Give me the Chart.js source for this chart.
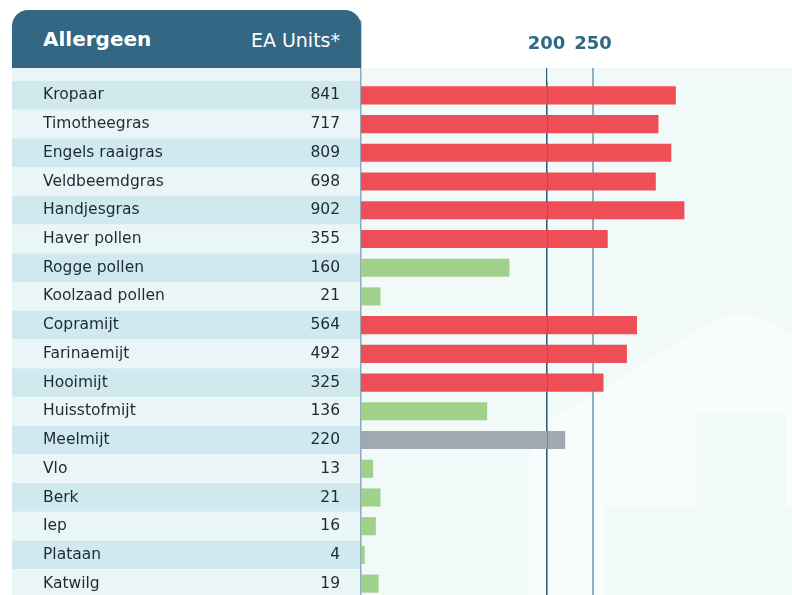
<!DOCTYPE html>
<html>
<head>
<meta charset="utf-8">
<script src="https://cdn.jsdelivr.net/npm/chart.js@4"></script>
<style>
  html, body { margin: 0; padding: 0; overflow: hidden; background: #fff; }
  #wrap { position: relative; width: 792px; height: 595px; overflow: hidden; }
  #chartCanvas { position: absolute; left: 0; top: 0; }
  .head {
    position: absolute; left: 12px; top: 10px; width: 349px; height: 58px;
    background: #336783; border-radius: 16px 16px 0 0; color: #fff;
    font-family: "DejaVu Sans", sans-serif;
  }
  .head span { position: absolute; line-height: normal; white-space: nowrap; }
  .head .t1 { left: 31px; top: 17px; font-size: 20px; font-weight: 700; }
  .head .t2 { right: 21px; top: 19px; font-size: 19px; }
</style>
</head>
<body>
<div id="wrap">
  <canvas id="chartCanvas" width="792" height="598"></canvas>
  <div class="head"><span class="t1">Allergeen</span><span class="t2">EA Units*</span></div>
</div>
<script>
const allergens = ["Kropaar", "Timotheegras", "Engels raaigras", "Veldbeemdgras", "Handjesgras",
  "Haver pollen", "Rogge pollen", "Koolzaad pollen", "Copramijt", "Farinaemijt", "Hooimijt",
  "Huisstofmijt", "Meelmijt", "Vlo", "Berk", "Iep", "Plataan", "Katwilg"];
const eaUnits = [841, 717, 809, 698, 902, 355, 160, 21, 564, 492, 325, 136, 220, 13, 21, 16, 4, 19];
const tickValues = [200, 250];

// above 250 the axis is squeezed
const BREAK = 250, SQUEEZE = 0.151;

const barColor = v => v > 250 ? "#f04e56" : (v >= 200 ? "#a1a9b0" : "#9fd18b");

class SplitScale extends Chart.LinearScale {
  static id = "split";
  static defaults = Chart.LinearScale.defaults;
  _t(v) { return v <= BREAK ? v : BREAK + (v - BREAK) * SQUEEZE; }
  _inv(t) { return t <= BREAK ? t : BREAK + (t - BREAK) / SQUEEZE; }
  getPixelForValue(value) {
    const a = this._t(this.min), b = this._t(this.max);
    return this.getPixelForDecimal((this._t(value) - a) / (b - a));
  }
  getValueForPixel(pixel) {
    const a = this._t(this.min), b = this._t(this.max);
    return this._inv(a + this.getDecimalForPixel(pixel) * (b - a));
  }
}
Chart.register(SplitScale);

const backdrop = {
  id: "backdrop",
  beforeDraw(chart) {
    const { ctx, chartArea: ca, scales } = chart;
    const y = scales.y;
    ctx.save();
    // chart background
    ctx.fillStyle = "#f1f9f9";
    ctx.fillRect(ca.left, 68, chart.width - ca.left, chart.height - 68);
    // faint house
    ctx.beginPath();
    ctx.rect(ca.left, 68, chart.width - ca.left, chart.height - 68);
    ctx.clip();
    ctx.fillStyle = "#f7fcfc";
    ctx.beginPath();
    ctx.moveTo(528, 600);
    ctx.lineTo(528, 470);
    ctx.quadraticCurveTo(528, 432, 560, 414);
    ctx.lineTo(712, 322);
    ctx.quadraticCurveTo(740, 306, 772, 322);
    ctx.lineTo(800, 340);
    ctx.lineTo(800, 600);
    ctx.closePath();
    ctx.fill();
    ctx.fillStyle = "#f2f9f9";
    ctx.fillRect(605, 506, 200, 100);
    ctx.fillRect(695, 414, 91, 92);
    ctx.restore();

    ctx.save();
    // left table rows
    ctx.fillStyle = "#eaf5f7";
    ctx.fillRect(12, 68, ca.left - 12, ca.top - 68);
    const step = (ca.bottom - ca.top) / allergens.length;
    allergens.forEach((a, i) => {
      const cy = y.getPixelForValue(i);
      ctx.fillStyle = i % 2 ? "#eaf5f7" : "#d0e9ee";
      ctx.fillRect(12, cy - step / 2, ca.left - 12, step);
    });
    // panel edge
    ctx.fillStyle = "#8eaabb";
    ctx.fillRect(ca.left - 1, 20, 1.5, chart.height);
    ctx.restore();
  },
  afterDatasetsDraw(chart) {
    const { ctx, chartArea: ca, scales } = chart;
    const px = Math.round(scales.x.getPixelForValue(tickValues[0])) + 0.5;
    ctx.save();
    ctx.strokeStyle = "rgba(43,95,120,0.45)";
    ctx.lineWidth = 1;
    ctx.beginPath();
    ctx.moveTo(px, ca.top);
    ctx.lineTo(px, ca.bottom);
    ctx.stroke();
    ctx.restore();
  }
};

// label padding of the vertical axes should not shrink the plot
const noPad = w => s => { s.width = w; s.paddingTop = 0; s.paddingBottom = 0; };

const ctx = document.getElementById("chartCanvas").getContext("2d");
new Chart(ctx, {
  type: "bar",
  data: {
    labels: allergens,
    datasets: [{
      data: eaUnits,
      backgroundColor: eaUnits.map(barColor),
      borderWidth: 0,
      categoryPercentage: 1,
      barPercentage: 0.63
    }]
  },
  options: {
    indexAxis: "y",
    responsive: false,
    animation: false,
    layout: { padding: { left: 43, right: 0, top: 0, bottom: 0 } },
    plugins: { legend: { display: false }, tooltip: { enabled: false } },
    scales: {
      x: {
        type: "split",
        position: "top",
        min: 0,
        max: 1670,
        afterBuildTicks: s => { s.ticks = tickValues.map(v => ({ value: v })); },
        afterFit: s => { s.height = 81; },
        border: { display: false },
        grid: {
          color: c => c.tick && c.tick.value === 200 ? "#2b5f78" : "#8fb0c0",
          lineWidth: c => c.tick && c.tick.value === 200 ? 1.2 : 2,
          tickLength: 13
        },
        ticks: {
          autoSkip: false,
          maxRotation: 0,
          padding: 13,
          color: "#2f6784",
          font: { family: "DejaVu Sans", size: 18, weight: "bold" }
        }
      },
      y: {
        position: "left",
        weight: 1,
        afterFit: noPad(200),
        grid: { display: false, drawTicks: false },
        border: { display: false },
        ticks: {
          crossAlign: "far",
          padding: 0,
          color: "#1d2b33",
          font: { family: "DejaVu Sans", size: 15.5 }
        }
      },
      yv: {
        type: "category",
        axis: "y",
        labels: eaUnits.map(String),
        position: "left",
        weight: 0,
        offset: true,
        afterFit: noPad(118),
        grid: { display: false, drawTicks: false, offset: true },
        border: { display: false },
        ticks: {
          crossAlign: "near",
          padding: 21,
          color: "#1d2b33",
          font: { family: "DejaVu Sans", size: 15.5 }
        }
      }
    }
  },
  plugins: [backdrop]
});
</script>
</body>
</html>
